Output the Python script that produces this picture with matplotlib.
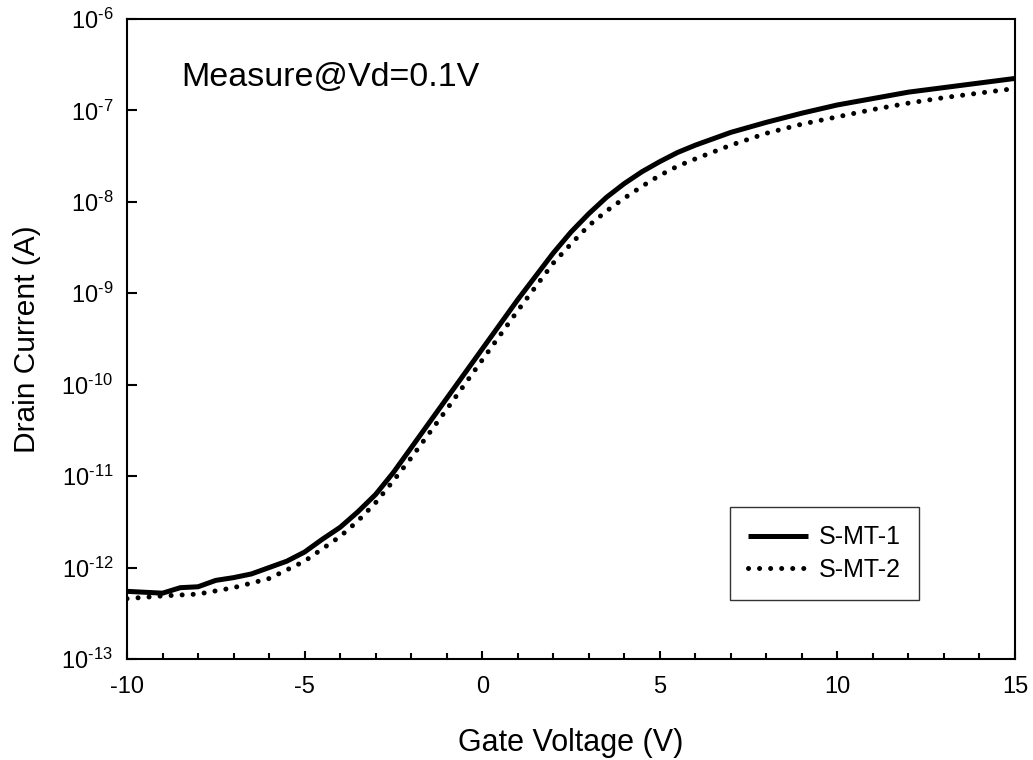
import matplotlib
matplotlib.use('Agg')  # no UI backend

import numpy as np
import matplotlib.pyplot as plt
from matplotlib.ticker import FixedLocator, MultipleLocator, FuncFormatter

plt.rcParams['font.family'] = ['Liberation Sans', 'DejaVu Sans']
plt.rcParams['mathtext.fontset'] = 'custom'
plt.rcParams['mathtext.rm'] = 'Liberation Sans'
plt.rcParams['mathtext.it'] = 'Liberation Sans:italic'
plt.rcParams['axes.unicode_minus'] = False

# gate voltage (V) and log10 of drain current (A)
vg1 = [-10, -9.5, -9, -8.5, -8, -7.5, -7, -6.5, -6, -5.5, -5, -4.5, -4, -3.5, -3, -2.5,
       -2, -1, 0, 1, 2, 2.5, 3, 3.5, 4, 4.5, 5, 5.5, 6, 7, 8, 9, 10, 11, 12, 13, 14, 15]
logI1 = [-12.26, -12.27, -12.28, -12.22, -12.21, -12.14, -12.11, -12.07, -12.00, -11.93,
         -11.83, -11.69, -11.56, -11.39, -11.20, -10.96, -10.69, -10.15, -9.61, -9.07,
         -8.56, -8.33, -8.13, -7.95, -7.80, -7.67, -7.56, -7.46, -7.38, -7.24, -7.13,
         -7.03, -6.94, -6.87, -6.80, -6.75, -6.70, -6.65]

vg2 = [-10, -9, -8, -7, -6, -5, -4, -3.5, -3, -2.5, -2, -1, 0, 1, 2, 2.5, 3, 3.5, 4,
       4.5, 5, 5.5, 6, 7, 8, 9, 10, 11, 12, 13, 14, 15]
logI2 = [-12.34, -12.31, -12.29, -12.22, -12.12, -11.93, -11.66, -11.49, -11.29, -11.05,
         -10.80, -10.27, -9.73, -9.19, -8.67, -8.46, -8.26, -8.10, -7.96, -7.83, -7.71,
         -7.61, -7.53, -7.38, -7.25, -7.15, -7.07, -6.99, -6.92, -6.86, -6.81, -6.76]

labels = ['S-MT-1', 'S-MT-2']
yticks = [1e-13, 1e-12, 1e-11, 1e-10, 1e-9, 1e-8, 1e-7, 1e-6]


def decade_label(v, pos):
    return r'$\mathregular{10^{\text{-}%d}}$' % abs(round(np.log10(v)))


fig = plt.figure(figsize=(10.33, 7.6), dpi=100)
ax = fig.add_axes([127/1033, 101/760, 888/1033, 640/760])

ax.plot(vg1, 10**np.array(logI1), color='black', lw=3.6, label=labels[0],
        solid_capstyle='butt', solid_joinstyle='round')
ax.plot(vg2, 10**np.array(logI2), color='black', lw=3.6, label=labels[1],
        linestyle=(0, (0.01, 2.2)), dash_capstyle='round')

ax.set_yscale('log')
ax.set_xlim(-10, 15)
ax.set_ylim(1e-13, 1e-6)

ax.xaxis.set_major_locator(MultipleLocator(5))
ax.xaxis.set_minor_locator(MultipleLocator(1))
ax.yaxis.set_major_locator(FixedLocator(yticks))
ax.yaxis.set_minor_locator(FixedLocator([]))
ax.yaxis.set_major_formatter(FuncFormatter(decade_label))

ax.tick_params(axis='both', which='major', direction='in', labelsize=17, width=1.5)
ax.tick_params(axis='x', which='major', length=6, pad=12, top=False)
ax.tick_params(axis='x', which='minor', direction='in', length=4, width=1.5, top=False)
ax.tick_params(axis='y', which='major', length=7, pad=10, right=False)
for s in ax.spines.values():
    s.set_linewidth(1.5)

ax.set_xlabel('Gate Voltage (V)', fontsize=22, labelpad=22)
ax.set_ylabel('Drain Current (A)', fontsize=21.5, labelpad=15)

ax.text(0.061, 0.895, 'Measure@Vd=0.1V', transform=ax.transAxes, fontsize=24.5, va='baseline')

leg = ax.legend(loc='lower left', bbox_to_anchor=(0.679, 0.092), borderaxespad=0,
                fontsize=18, frameon=True, fancybox=False, handlelength=2.4,
                handletextpad=0.45, borderpad=0.72, labelspacing=0.35)
leg.get_frame().set_edgecolor('black')
leg.get_frame().set_linewidth(1.0)

plt.savefig('out.png', dpi=100)
